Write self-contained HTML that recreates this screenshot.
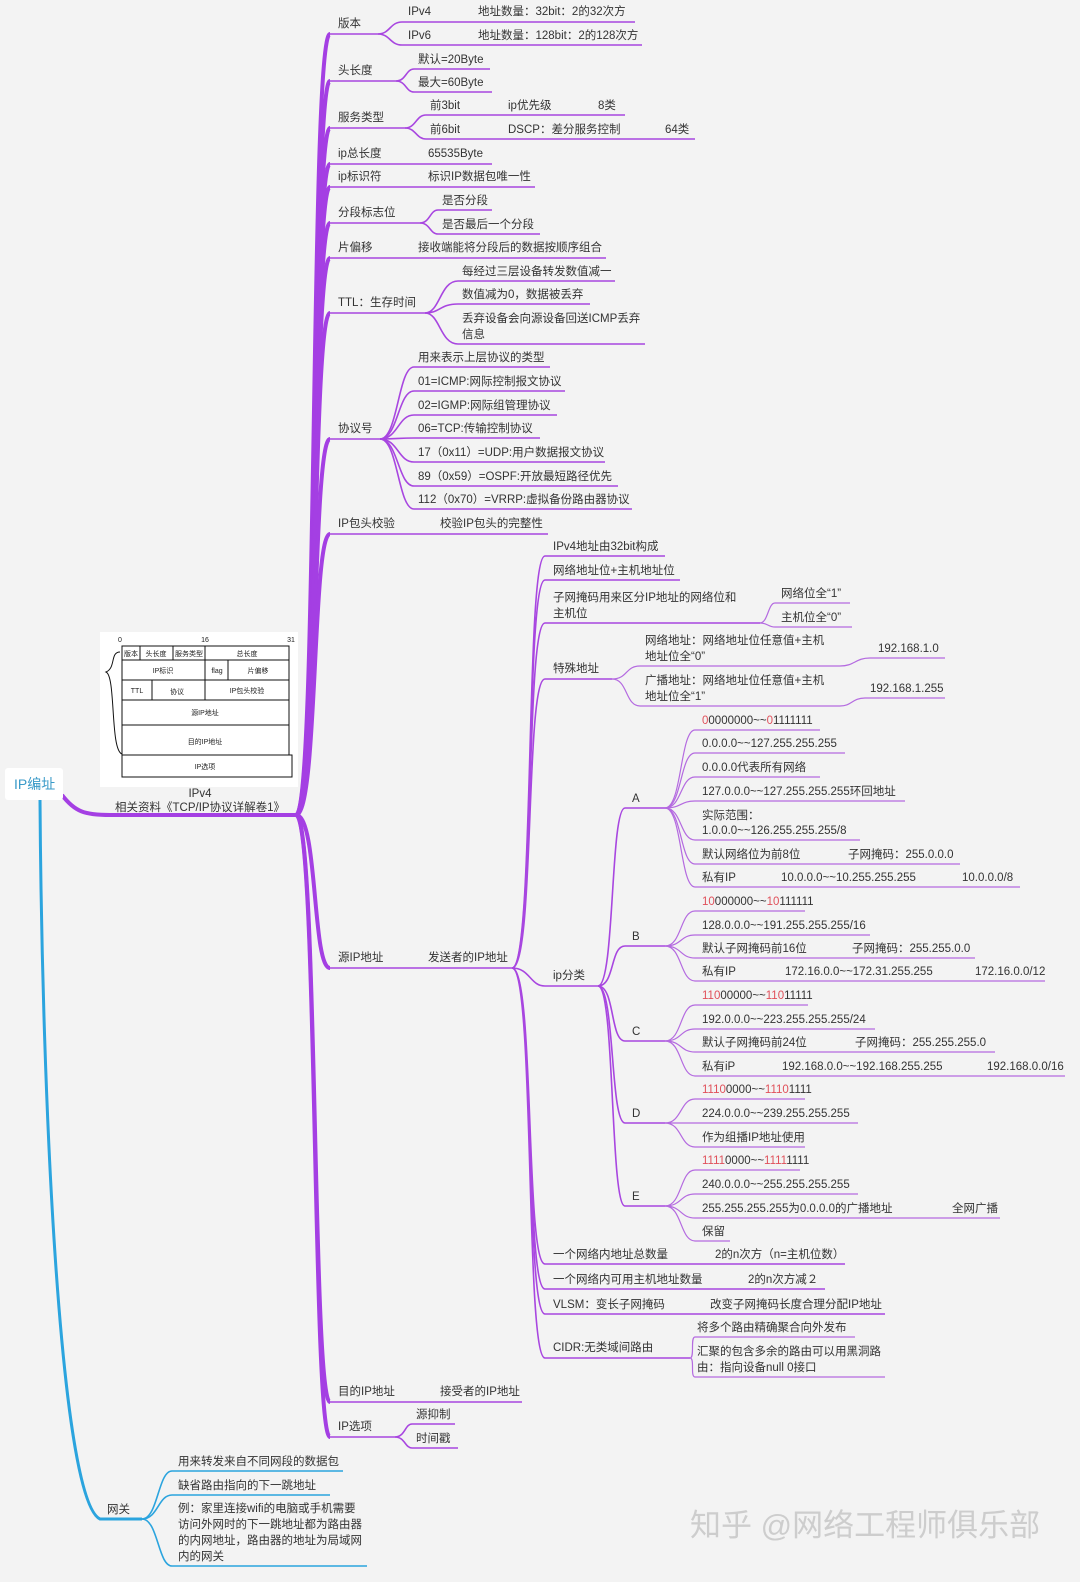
<!DOCTYPE html>
<html><head><meta charset="utf-8"><style>
html,body{margin:0;padding:0;background:#f3f3f3;}
svg{display:block;font-family:"Liberation Sans","Noto Sans CJK SC",sans-serif;}
.t{font-size:11.5px;fill:#333;}
.p{fill:none;stroke:#a846e0;stroke-width:1.6;}
.q{fill:none;stroke:#b46ae0;stroke-width:1.2;}
.m{fill:none;stroke:#a43fe3;stroke-width:4;}
.b{fill:none;stroke:#2ba4de;stroke-width:3;}
.bt{fill:none;stroke:#2ba4de;stroke-width:1.6;}
.r{fill:#e0505a;}
.g{font-size:7px;fill:#222;text-anchor:middle;}
.c{fill:none;stroke:#111;stroke-width:1;}
</style></head><body>
<svg width="1080" height="1582" viewBox="0 0 1080 1582">
<rect width="1080" height="1582" fill="#f3f3f3"/>
<g class="m">
<path d="M62 795 C75 812 85 815 110 815 L296 815"/>
<path d="M296 815 C318 815 310 34 330 34"/>
<path d="M296 815 C318 815 312 81 330 81"/>
<path d="M296 815 C318 815 312 128 330 128"/>
<path d="M296 815 C318 815 312 164 330 164"/>
<path d="M296 815 C318 815 312 187 330 187"/>
<path d="M296 815 C318 815 312 223 330 223"/>
<path d="M296 815 C318 815 312 258 330 258"/>
<path d="M296 815 C318 815 312 313 330 313"/>
<path d="M296 815 C318 815 312 439 330 439"/>
<path d="M296 815 C318 815 312 534 330 534"/>
<path d="M296 815 C318 815 312 968 330 968"/>
<path d="M296 815 C318 815 312 1402 330 1402"/>
<path d="M296 815 C318 815 312 1437 330 1437"/>
</g>
<g class="p">
<path d="M330 34 L378 34"/><path d="M378 34 C390 34 390 22 402 22 L635 22"/><path d="M378 34 C390 34 390 45 402 45 L642 45"/>
<path d="M330 81 L396 81"/><path d="M396 81 C406 81 406 69 414 69 L490 69"/><path d="M396 81 C406 81 406 92 414 92 L492 92"/>
<path d="M330 128 L405 128"/><path d="M405 128 C416 128 416 115 426 115 L625 115"/><path d="M405 128 C416 128 416 139 426 139 L695 139"/>
<path d="M330 164 L492 164"/>
<path d="M330 187 L535 187"/>
<path d="M330 223 L420 223"/><path d="M420 223 C430 223 430 210 438 210 L492 210"/><path d="M420 223 C430 223 430 234 438 234 L540 234"/>
<path d="M330 258 L606 258"/>
<path d="M330 313 L425 313"/><path d="M425 313 C440 313 440 281 458 281 L615 281"/><path d="M425 313 C440 313 440 304 458 304 L590 304"/><path d="M425 313 C440 313 440 344 458 344 L645 344"/>
<path d="M330 439 L380 439"/>
<path d="M380 439 C398 439 398 367 414 367 L550 367"/><path d="M380 439 C398 439 398 391 414 391 L565 391"/><path d="M380 439 C398 439 398 415 414 415 L557 415"/><path d="M380 439 C398 439 398 438 414 438 L540 438"/><path d="M380 439 C398 439 398 462 414 462 L605 462"/><path d="M380 439 C398 439 398 486 414 486 L618 486"/><path d="M380 439 C398 439 398 509 414 509 L632 509"/>
<path d="M330 534 L548 534"/>
<path d="M330 968 L512 968"/>
<path d="M512 968 C535 968 525 556 545 556 L665 556"/>
<path d="M512 968 C535 968 525 580 545 580 L680 580"/>
<path d="M512 968 C535 968 525 623 545 623 L760 623"/>
<path d="M512 968 C535 968 525 679 545 679 L612 679"/>
<path d="M512 968 C530 968 530 986 545 986 L598 986"/>
<path d="M512 968 C535 968 525 1264 545 1264 L845 1264"/>
<path d="M512 968 C535 968 525 1289 545 1289 L825 1289"/>
<path d="M512 968 C535 968 525 1314 545 1314 L885 1314"/>
<path d="M512 968 C535 968 525 1358 545 1358 L690 1358"/>
<path d="M330 1402 L522 1402"/>
<path d="M330 1437 L395 1437"/><path d="M395 1437 C405 1437 405 1424 412 1424 L455 1424"/><path d="M395 1437 C405 1437 405 1448 412 1448 L458 1448"/>
<path d="M598 986 C615 986 610 808 625 808 L665 808"/>
<path d="M598 986 C615 986 610 946 625 946 L665 946"/>
<path d="M598 986 C615 986 610 1041 625 1041 L665 1041"/>
<path d="M598 986 C615 986 610 1123 625 1123 L665 1123"/>
<path d="M598 986 C615 986 610 1206 625 1206 L665 1206"/>
</g>
<g class="q">
<path d="M760 623 C768 623 768 603 775 603 L850 603"/><path d="M760 623 C768 623 768 627 775 627 L852 627"/>
<path d="M612 679 C628 679 625 666 640 666 L840 666"/><path d="M840 666 C855 666 855 658 870 658 L945 658"/>
<path d="M612 679 C628 679 625 706 640 706 L840 706"/><path d="M840 706 C852 706 852 698 865 698 L945 698"/>
<path d="M665 808 C682 808 680 730 695 730 L820 730"/>
<path d="M665 808 C682 808 680 753 695 753 L845 753"/>
<path d="M665 808 C682 808 680 777 695 777 L820 777"/>
<path d="M665 808 C682 808 680 801 695 801 L905 801"/>
<path d="M665 808 C682 808 680 840 695 840 L860 840"/>
<path d="M665 808 C682 808 680 864 695 864 L960 864"/>
<path d="M665 808 C682 808 680 887 695 887 L1020 887"/>
<path d="M665 946 C682 946 680 911 695 911 L805 911"/>
<path d="M665 946 C682 946 680 935 695 935 L870 935"/>
<path d="M665 946 C682 946 680 958 695 958 L975 958"/>
<path d="M665 946 C682 946 680 981 695 981 L1045 981"/>
<path d="M665 1041 C682 1041 680 1005 695 1005 L808 1005"/>
<path d="M665 1041 C682 1041 680 1029 695 1029 L875 1029"/>
<path d="M665 1041 C682 1041 680 1052 695 1052 L995 1052"/>
<path d="M665 1041 C682 1041 680 1076 695 1076 L1065 1076"/>
<path d="M665 1123 C682 1123 680 1099 695 1099 L805 1099"/>
<path d="M665 1123 C682 1123 680 1123 695 1123 L858 1123"/>
<path d="M665 1123 C682 1123 680 1147 695 1147 L805 1147"/>
<path d="M665 1206 C682 1206 680 1170 695 1170 L800 1170"/>
<path d="M665 1206 C682 1206 680 1194 695 1194 L858 1194"/>
<path d="M665 1206 C682 1206 680 1218 695 1218 L1000 1218"/>
<path d="M665 1206 C682 1206 680 1241 695 1241 L730 1241"/>
<path d="M690 1358 C695 1358 690 1337 695 1337 L855 1337"/>
<path d="M690 1358 C695 1358 690 1377 695 1377 L885 1377"/>
</g>
<path class="b" d="M40 800 C42 1100 60 1500 100 1519 L142 1519"/>
<g class="bt">
<path d="M142 1519 C158 1519 158 1471 172 1471 L343 1471"/>
<path d="M142 1519 C158 1519 158 1495 172 1495 L330 1495"/>
<path d="M142 1519 C158 1519 158 1566 172 1566 L367 1566"/>
</g>
<rect x="5" y="768" width="58" height="32" rx="3" fill="#fff"/>
<text x="14" y="789" style="font-size:14px;fill:#3a9ac8">IP编址</text>
<rect x="100" y="632" width="198" height="155" fill="#fff"/>
<g class="c">
<rect x="122" y="646" width="167" height="14"/>
<line x1="140" y1="646" x2="140" y2="660"/><line x1="173" y1="646" x2="173" y2="660"/><line x1="205" y1="646" x2="205" y2="660"/>
<rect x="122" y="660" width="167" height="20"/><line x1="205" y1="660" x2="205" y2="680"/><line x1="228" y1="660" x2="228" y2="680"/>
<rect x="122" y="680" width="167" height="20"/><line x1="152" y1="680" x2="152" y2="700"/><line x1="205" y1="680" x2="205" y2="700"/>
<rect x="122" y="700" width="167" height="25"/>
<rect x="122" y="725" width="167" height="30"/>
<rect x="122" y="755" width="170" height="22"/>
<path d="M120 652 C110 652 116 668 106 672 C116 676 110 750 122 754"/>
</g>
<g class="g">
<text x="120" y="642">0</text><text x="205" y="642">16</text><text x="291" y="642">31</text>
<text x="131" y="656">版本</text><text x="156" y="656">头长度</text><text x="189" y="656">服务类型</text><text x="247" y="656">总长度</text>
<text x="163" y="673">IP标识</text><text x="217" y="673">flag</text><text x="258" y="673">片偏移</text>
<text x="137" y="693">TTL</text><text x="177" y="694">协议</text><text x="247" y="693">IP包头校验</text>
<text x="205" y="715">源IP地址</text><text x="205" y="744">目的IP地址</text><text x="205" y="769">IP选项</text>
</g>
<text x="200" y="797" class="t" text-anchor="middle">IPv4</text>
<text x="200" y="811" class="t" text-anchor="middle">相关资料《TCP/IP协议详解卷1》</text>
<g class="t">
<text x="338" y="27">版本</text><text x="408" y="15">IPv4</text><text x="478" y="15">地址数量：32bit：2的32次方</text>
<text x="408" y="39">IPv6</text><text x="478" y="39">地址数量：128bit：2的128次方</text>
<text x="338" y="74">头长度</text><text x="418" y="63">默认=20Byte</text><text x="418" y="86">最大=60Byte</text>
<text x="338" y="121">服务类型</text><text x="430" y="109">前3bit</text><text x="508" y="109">ip优先级</text><text x="598" y="109">8类</text>
<text x="430" y="133">前6bit</text><text x="508" y="133">DSCP：差分服务控制</text><text x="665" y="133">64类</text>
<text x="338" y="157">ip总长度</text><text x="428" y="157">65535Byte</text>
<text x="338" y="180">ip标识符</text><text x="428" y="180">标识IP数据包唯一性</text>
<text x="338" y="216">分段标志位</text><text x="442" y="204">是否分段</text><text x="442" y="228">是否最后一个分段</text>
<text x="338" y="251">片偏移</text><text x="418" y="251">接收端能将分段后的数据按顺序组合</text>
<text x="338" y="306">TTL：生存时间</text><text x="462" y="275">每经过三层设备转发数值减一</text><text x="462" y="298">数值减为0，数据被丢弃</text>
<text x="462" y="322">丢弃设备会向源设备回送ICMP丢弃</text><text x="462" y="338">信息</text>
<text x="338" y="432">协议号</text>
<text x="418" y="361">用来表示上层协议的类型</text><text x="418" y="385">01=ICMP:网际控制报文协议</text><text x="418" y="409">02=IGMP:网际组管理协议</text><text x="418" y="432">06=TCP:传输控制协议</text>
<text x="418" y="456">17（0x11）=UDP:用户数据报文协议</text><text x="418" y="480">89（0x59）=OSPF:开放最短路径优先</text><text x="418" y="503">112（0x70）=VRRP:虚拟备份路由器协议</text>
<text x="338" y="527">IP包头校验</text><text x="440" y="527">校验IP包头的完整性</text>
<text x="338" y="961">源IP地址</text><text x="428" y="961">发送者的IP地址</text>
<text x="553" y="550">IPv4地址由32bit构成</text><text x="553" y="574">网络地址位+主机地址位</text>
<text x="553" y="601">子网掩码用来区分IP地址的网络位和</text><text x="553" y="617">主机位</text>
<text x="781" y="597">网络位全“1”</text><text x="781" y="621">主机位全“0”</text>
<text x="553" y="672">特殊地址</text>
<text x="645" y="644">网络地址：网络地址位任意值+主机</text><text x="645" y="660">地址位全“0”</text><text x="878" y="652">192.168.1.0</text>
<text x="645" y="684">广播地址：网络地址位任意值+主机</text><text x="645" y="700">地址位全“1”</text><text x="870" y="692">192.168.1.255</text>
<text x="553" y="979">ip分类</text>
<text x="632" y="802">A</text><text x="632" y="940">B</text><text x="632" y="1035">C</text><text x="632" y="1117">D</text><text x="632" y="1200">E</text>
<text x="702" y="724"><tspan class="r">0</tspan>0000000~~<tspan class="r">0</tspan>1111111</text>
<text x="702" y="747">0.0.0.0~~127.255.255.255</text><text x="702" y="771">0.0.0.0代表所有网络</text><text x="702" y="795">127.0.0.0~~127.255.255.255环回地址</text>
<text x="702" y="819">实际范围：</text><text x="702" y="834">1.0.0.0~~126.255.255.255/8</text>
<text x="702" y="858">默认网络位为前8位</text><text x="848" y="858">子网掩码：255.0.0.0</text>
<text x="702" y="881">私有IP</text><text x="781" y="881">10.0.0.0~~10.255.255.255</text><text x="962" y="881">10.0.0.0/8</text>
<text x="702" y="905"><tspan class="r">10</tspan>000000~~<tspan class="r">10</tspan>111111</text>
<text x="702" y="929">128.0.0.0~~191.255.255.255/16</text>
<text x="702" y="952">默认子网掩码前16位</text><text x="852" y="952">子网掩码：255.255.0.0</text>
<text x="702" y="975">私有IP</text><text x="785" y="975">172.16.0.0~~172.31.255.255</text><text x="975" y="975">172.16.0.0/12</text>
<text x="702" y="999"><tspan class="r">110</tspan>00000~~<tspan class="r">110</tspan>11111</text>
<text x="702" y="1023">192.0.0.0~~223.255.255.255/24</text>
<text x="702" y="1046">默认子网掩码前24位</text><text x="855" y="1046">子网掩码：255.255.255.0</text>
<text x="702" y="1070">私有iP</text><text x="782" y="1070">192.168.0.0~~192.168.255.255</text><text x="987" y="1070">192.168.0.0/16</text>
<text x="702" y="1093"><tspan class="r">1110</tspan>0000~~<tspan class="r">1110</tspan>1111</text>
<text x="702" y="1117">224.0.0.0~~239.255.255.255</text><text x="702" y="1141">作为组播IP地址使用</text>
<text x="702" y="1164"><tspan class="r">1111</tspan>0000~~<tspan class="r">1111</tspan>1111</text>
<text x="702" y="1188">240.0.0.0~~255.255.255.255</text>
<text x="702" y="1212">255.255.255.255为0.0.0.0的广播地址</text><text x="952" y="1212">全网广播</text>
<text x="702" y="1235">保留</text>
<text x="553" y="1258">一个网络内地址总数量</text><text x="715" y="1258">2的n次方（n=主机位数）</text>
<text x="553" y="1283">一个网络内可用主机地址数量</text><text x="748" y="1283">2的n次方减２</text>
<text x="553" y="1308">VLSM：变长子网掩码</text><text x="710" y="1308">改变子网掩码长度合理分配IP地址</text>
<text x="553" y="1351">CIDR:无类域间路由</text>
<text x="697" y="1331">将多个路由精确聚合向外发布</text>
<text x="697" y="1355">汇聚的包含多余的路由可以用黑洞路</text><text x="697" y="1371">由：指向设备null 0接口</text>
<text x="338" y="1395">目的IP地址</text><text x="440" y="1395">接受者的IP地址</text>
<text x="338" y="1430">IP选项</text><text x="416" y="1418">源抑制</text><text x="416" y="1442">时间戳</text>
<text x="107" y="1513">网关</text>
<text x="178" y="1465">用来转发来自不同网段的数据包</text><text x="178" y="1489">缺省路由指向的下一跳地址</text>
<text x="178" y="1512">例：家里连接wifi的电脑或手机需要</text><text x="178" y="1528">访问外网时的下一跳地址都为路由器</text>
<text x="178" y="1544">的内网地址，路由器的地址为局域网</text><text x="178" y="1560">内的网关</text>
</g>
<text x="690" y="1536" style="font-size:31px;fill:#cdcdcd">知乎 @网络工程师俱乐部</text>
</svg>
</body></html>
